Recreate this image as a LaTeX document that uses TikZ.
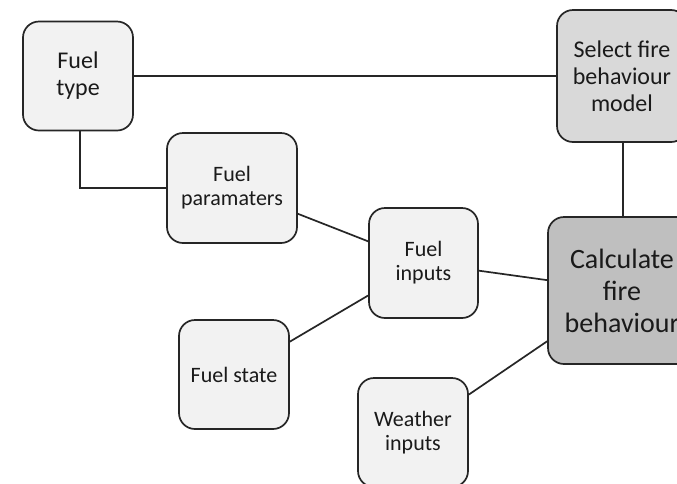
\documentclass[tikz,border=0pt]{standalone}
\usepackage{fontspec}
\setmainfont{Carlito}
\definecolor{boxlight}{HTML}{F2F2F2}
\definecolor{boxmid}{HTML}{D9D9D9}
\definecolor{boxdark}{HTML}{BFBFBF}
\definecolor{edgecol}{HTML}{262626}
\definecolor{txtcol}{HTML}{1A1A1A}
\tikzset{
  boxbase/.style={draw=edgecol, line width=1.7pt, rounded corners=16pt, align=center,
    text=txtcol, inner sep=2pt},
  smallbox/.style={boxbase, fill=boxlight, font=\fontsize{22}{24}\selectfont},
  midbox/.style={boxbase, font=\fontsize{24}{27}\selectfont},
  bigbox/.style={boxbase, fill=boxdark, font=\fontsize{28}{32}\selectfont},
  link/.style={draw=edgecol, line width=1.7pt}
}
\begin{document}
\begin{tikzpicture}[x=1pt, y=-1pt]
\useasboundingbox (0,0) rectangle (677,483);
\clip (0,0) rectangle (677,483);
\fill[white] (0,0) rectangle (677,483);
\node[midbox, fill=boxlight, minimum width=110pt, minimum height=109pt] (ft) at (78,76) {Fuel\\type};
\node[smallbox, minimum width=130pt, minimum height=110pt] (fp) at (232,188) {Fuel\\paramaters};
\node[midbox, fill=boxmid, minimum width=130pt, minimum height=132pt] (sel) at (622,76) {Select fire\\behaviour\\model};
\node[bigbox, minimum width=148pt, minimum height=147pt] (calc) at (622,290.5) {Calculate\\fire\\behaviour};
\node[smallbox, minimum width=109pt, minimum height=110pt] (fi) at (423.5,263) {Fuel\\inputs};
\node[smallbox, minimum width=110pt, minimum height=109pt] (fs) at (234,374.5) {Fuel state};
\node[smallbox, minimum width=110pt, minimum height=109pt] (wi) at (413,432.5) {Weather\\inputs};
\draw[link] (ft) -- (sel);
\draw[link] ([xshift=2pt]ft.south) |- (fp.west);
\draw[link] (fp) -- (fi);
\draw[link] (fs) -- (fi);
\draw[link] (fi) -- (calc);
\draw[link] (wi) -- (calc);
\draw[link] ([xshift=1pt]sel.south) -- ([xshift=1pt]calc.north);
\end{tikzpicture}
\end{document}
